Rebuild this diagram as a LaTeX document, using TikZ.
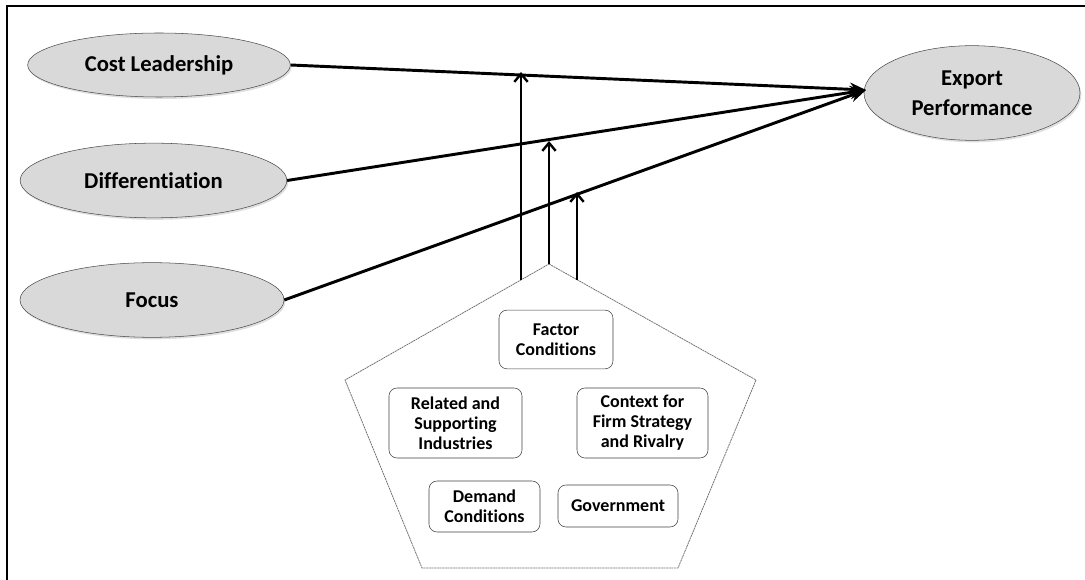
\documentclass[tikz,border=0pt]{standalone}
\usepackage{fontspec}
\setmainfont{Carlito}[Ligatures=NoCommon]
\usetikzlibrary{arrows.meta,shapes.geometric,shadows}

\begin{document}
\begin{tikzpicture}[x=0.75pt,y=-0.75pt,
    driver/.style={ellipse,draw=black!70,fill=black!15,inner sep=0pt,align=center,
        font=\bfseries\fontsize{17}{22.5}\selectfont,
        drop shadow={shadow xshift=1pt,shadow yshift=-1.5pt,opacity=0.25}},
    factor/.style={draw=black!75,fill=white,rounded corners=6pt,inner sep=0pt,align=center,
        font=\bfseries\fontsize{13.5}{15}\selectfont},
    link/.style={line width=2.2pt,-{Stealth[length=12pt,width=10pt]}},
    lift/.style={line width=2.2pt,-{Straight Barb[length=6pt,width=10pt,line width=1.8pt]}}]

    \useasboundingbox (0,0) rectangle (1085,580);
    \draw[line width=2pt] (7,580) -- (7,6) -- (1085,6);

    \node[driver,minimum width=197pt,minimum height=48pt] (cost) at (159,65) {Cost Leadership};
    \node[driver,minimum width=200pt,minimum height=56pt] (diff) at (153.5,180.5) {Differentiation};
    \node[driver,minimum width=198pt,minimum height=56pt] (focus) at (152,300) {Focus};
    \node[driver,minimum width=162pt,minimum height=71pt] (export) at (972,93) {Export\\Performance};

    \coordinate (tip) at (866,90);
    \draw[link] (cost.east) -- (tip);
    \draw[link] (diff.east) -- (tip);
    \draw[link] (focus.east) -- (tip);

    \coordinate (apex) at (549,264);
    \coordinate (pr) at (756,380);
    \coordinate (br) at (678,568);
    \coordinate (bl) at (422,568);
    \coordinate (pl) at (345,380);
    \draw[black!55,line width=0.6pt,dash pattern=on 1.5pt off 0.5pt]
        (apex) -- (pr) -- (br) -- (bl) -- (pl) -- cycle;

    \node[factor,minimum width=85.5pt,minimum height=44pt] (fc) at (556,339.5) {Factor\\Conditions};
    \node[factor,minimum width=99.75pt,minimum height=52.5pt] (rsi) at (455.5,423) {Related and\\Supporting\\Industries};
    \node[factor,minimum width=98.25pt,minimum height=52.5pt] (cfs) at (642.5,423) {Context for\\Firm Strategy\\and Rivalry};
    \node[factor,minimum width=83.25pt,minimum height=38.25pt] (dc) at (484.5,506.5) {Demand\\Conditions};
    \node[factor,minimum width=90pt,minimum height=31.5pt] (gov) at (618,506) {Government};

    \coordinate (s1) at (521,280);
    \coordinate (s3) at (577,280);
    \coordinate (t1) at (521,72);
    \coordinate (t2) at (549,141);
    \coordinate (t3) at (577,192);
    \draw[lift] (s1) -- (t1);
    \draw[lift] (apex) -- (t2);
    \draw[lift] (s3) -- (t3);
\end{tikzpicture}
\end{document}
